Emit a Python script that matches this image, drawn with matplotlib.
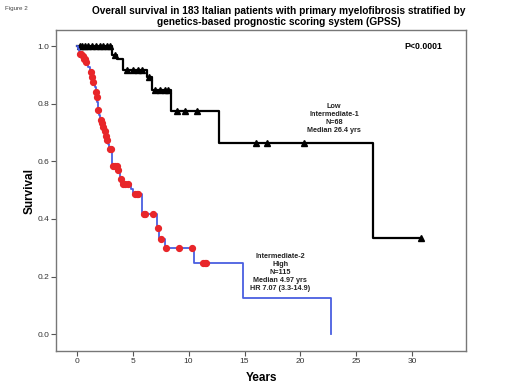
import matplotlib

matplotlib.use("Agg")
import matplotlib.pyplot as plt
import numpy as np

plt.rcParams['font.family'] = ['Liberation Sans', 'DejaVu Sans']

# Low / Intermediate-1 (N=68): step times and survival after each step
low_t = [0, 3.13, 3.57, 4.17, 6.26, 6.7, 8.4, 12.75, 26.45, 30.8]
low_s = [1.0, 0.971, 0.958, 0.918, 0.892, 0.848, 0.775, 0.663, 0.333, 0.333]
low_cens = [0.3, 0.45, 0.74, 1.0, 1.34, 1.7, 2.08, 2.38, 2.68, 2.98, 3.42,
            4.47, 5.06, 5.5, 5.81, 6.49, 7.0, 7.44, 7.89, 8.2, 8.94, 9.68,
            10.72, 16.0, 17.0, 20.3, 30.8]

# Intermediate-2 / High (N=115)
high_t = [0, 0.1, 0.2, 0.3, 0.45, 0.6, 0.75, 0.9, 1.05, 1.15, 1.3, 1.45, 1.6,
          1.7, 1.78, 1.85, 1.9, 1.95, 2.05, 2.15, 2.3, 2.45, 2.55, 2.65, 2.8,
          2.9, 3.18, 3.65, 3.87, 4.0, 4.83, 5.0, 5.84, 7.2, 7.4, 7.92, 10.45,
          14.83, 22.7]
high_s = [1.0, 0.991, 0.983, 0.974, 0.965, 0.956, 0.947, 0.938, 0.929, 0.912,
          0.894, 0.877, 0.86, 0.842, 0.825, 0.807, 0.78, 0.762, 0.745, 0.733,
          0.72, 0.705, 0.69, 0.675, 0.66, 0.645, 0.585, 0.571, 0.539, 0.52,
          0.504, 0.487, 0.416, 0.37, 0.33, 0.298, 0.248, 0.124, 0.0]
high_cens = [0.3, 0.4, 0.55, 0.65, 0.74, 0.85, 1.25, 1.35, 1.48, 1.72, 1.84,
             1.9, 2.14, 2.25, 2.38, 2.5, 2.62, 2.75, 2.98, 3.04, 3.27, 3.45,
             3.57, 3.72, 3.93, 4.17, 4.3, 4.62, 5.21, 5.35, 5.51, 6.01, 6.1,
             6.85, 7.24, 7.5, 7.95, 9.17, 10.27, 11.3, 11.47, 11.6]

x_ticks = [0, 5, 10, 15, 20, 25, 30]
y_ticks = [0.0, 0.2, 0.4, 0.6, 0.8, 1.0]


def surv_at(times, surv, pts):
    idx = np.searchsorted(times, pts, side='right') - 1
    return np.array(surv)[idx]


fig = plt.figure(figsize=(5.2, 3.9), dpi=100)
ax = fig.add_axes([0.1077, 0.1, 0.7885, 0.823])

# courbe noire
ax.step(low_t, low_s, where='post', color='black', linewidth=1.6, zorder=2)
ax.plot(low_cens, surv_at(low_t, low_s, low_cens), linestyle='none',
        marker='^', color='black', markersize=4, zorder=3)

# courbe bleue + censures rouges
ax.step(high_t, high_s, where='post', color='#4a5fe0', linewidth=1.3, zorder=4)
ax.plot(high_cens, surv_at(high_t, high_s, high_cens), linestyle='none',
        marker='o', color='#e8262a', markersize=4.2, zorder=5)

ax.set_xlim(-1.85, 34.8)
ax.set_ylim(-0.059, 1.057)
ax.set_xticks(x_ticks)
ax.set_yticks(y_ticks)
ax.set_yticklabels([f"{v:.1f}" for v in y_ticks])
ax.tick_params(axis='both', colors='#555555', labelsize=6, length=3.5,
               width=0.8, labelcolor='#333333', pad=1.5)
for sp in ax.spines.values():
    sp.set_color('#777777')
    sp.set_linewidth(1.0)

ax.set_xlabel("Years", fontsize=8.5, fontweight='bold', labelpad=5)
ax.set_ylabel("Survival", fontsize=8.5, fontweight='bold', labelpad=1)

ax.text(31.0, 1.0, "P<0.0001", fontsize=6.3, fontweight='bold',
        ha='center', va='center')
ax.text(23.0, 0.748, "Low\nIntermediate-1\nN=68\nMedian 26.4 yrs",
        fontsize=5.2, fontweight='bold', ha='center', va='center',
        linespacing=1.2, color='#222222')
ax.text(18.2, 0.215,
        "Intermediate-2\nHigh\nN=115\nMedian 4.97 yrs\nHR 7.07 (3.3-14.9)",
        fontsize=5.2, fontweight='bold', ha='center', va='center',
        linespacing=1.2, color='#222222')

fig.text(0.536, 0.958,
         "Overall survival in 183 Italian patients with primary myelofibrosis stratified by\n"
         "genetics-based prognostic scoring system (GPSS)",
         fontsize=7.3, fontweight='bold', ha='center', va='center',
         linespacing=1.15)
fig.text(0.01, 0.978, "Figure 2", fontsize=4.5, color='#444444',
         ha='left', va='center')

fig.savefig("out.png", dpi=100)
